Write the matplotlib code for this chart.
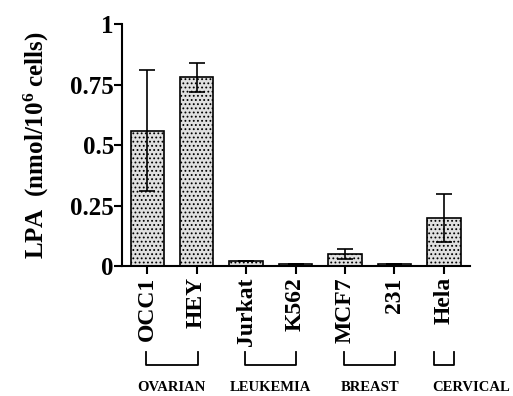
import matplotlib.pyplot as plt
from matplotlib import transforms

plt.rcParams['font.family'] = ['Liberation Serif', 'DejaVu Serif']
plt.rcParams['font.weight'] = 'bold'
plt.rcParams['mathtext.fontset'] = 'custom'
plt.rcParams['mathtext.rm'] = 'Liberation Serif:bold'
plt.rcParams['mathtext.default'] = 'rm'
plt.rcParams['hatch.linewidth'] = 0.8

# data
cells = ['OCC1', 'HEY', 'Jurkat', 'K562', 'MCF7', '231', 'Hela']
lpa = [0.56, 0.78, 0.02, 0.01, 0.05, 0.01, 0.20]
err = [0.25, 0.06, 0.0, 0.0, 0.02, 0.0, 0.10]
groups = ['OVARIAN', 'LEUKEMIA', 'BREAST', 'CERVICAL']
group_span = [(0, 1), (2, 3), (4, 5), (6, 6)]

fig = plt.figure(figsize=(5.13, 3.96), dpi=100)
ax = fig.add_axes([0.238, 0.328, 0.678, 0.611])

x = list(range(len(cells)))
ax.bar(x, lpa, width=0.67, color='#e0e0e0', edgecolor='black', linewidth=1.2,
       hatch='....')
ax.errorbar(x, lpa, yerr=err, fmt='none', ecolor='black', elinewidth=1.2,
            capsize=6, capthick=1.2)

ax.set_xlim(-0.505, 6.525)
ax.set_ylim(0, 1)
ax.set_yticks([0, 0.25, 0.5, 0.75, 1])
ax.set_yticklabels(['0', '0.25', '0.5', '0.75', '1'], fontsize=18,
                   fontweight='bold')
ax.set_xticks(x)
ax.set_xticklabels(cells, rotation=90, fontsize=17, fontweight='bold')
ax.set_ylabel('LPA  (nmol/10$^{6}$ cells)', fontsize=18, fontweight='bold',
              labelpad=14)
for s in ['top', 'right']:
    ax.spines[s].set_visible(False)
for s in ['left', 'bottom']:
    ax.spines[s].set_linewidth(1.5)
ax.tick_params(direction='out', length=6, width=1.5, pad=2)
ax.tick_params(axis='y', pad=0)

# group brackets below tick labels
tr = transforms.blended_transform_factory(ax.transData, ax.transAxes)
for name, (a, b) in zip(groups, group_span):
    xa, xb = a - 0.02, b + 0.02
    if a == b:
        xa, xb = a - 0.2, a + 0.2
    ax.plot([xa, xa, xb, xb], [-0.355, -0.41, -0.41, -0.355], color='black',
            lw=1.3, transform=tr, clip_on=False)
    ax.text((a + b) / 2 + (0.55 if a == b else 0), -0.5, name, transform=tr,
            ha='center', va='center', fontsize=10.5, fontweight='bold')

fig.savefig('out.png', dpi=100)
